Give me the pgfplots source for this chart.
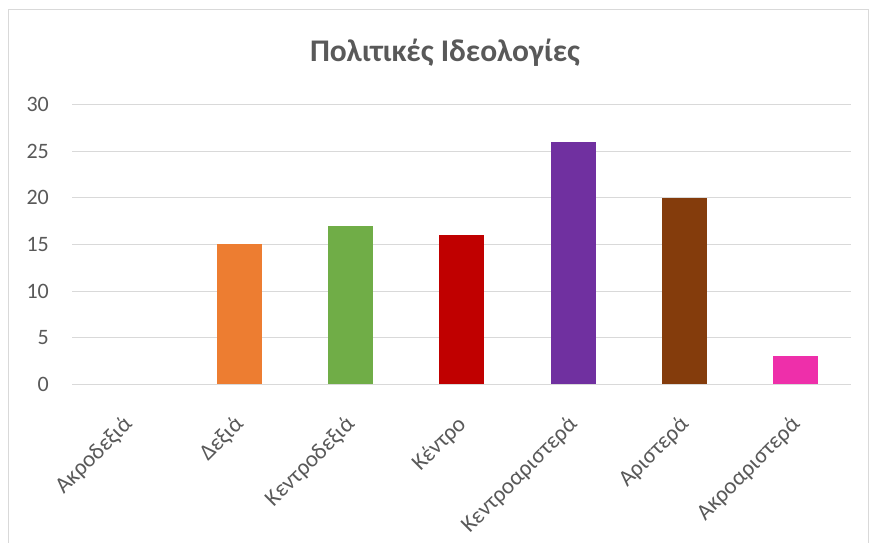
\documentclass[border=0pt]{standalone}
\usepackage{pgfplots}
\pgfplotsset{compat=1.18}
\usepackage{fontspec}
\setmainfont{Carlito}
\definecolor{txt}{RGB}{89,89,89}
\definecolor{grd}{RGB}{217,217,217}
\definecolor{c1}{RGB}{237,125,49}
\definecolor{c2}{RGB}{112,173,71}
\definecolor{c3}{RGB}{192,0,0}
\definecolor{c4}{RGB}{112,48,160}
\definecolor{c5}{RGB}{132,60,12}
\definecolor{c6}{RGB}{238,47,170}
\begin{document}
\begin{tikzpicture}[x=1pt,y=1pt]
\useasboundingbox (0,0) rectangle (870,543);
\draw[grd,line width=1pt] (8,-20) -- (8,533) -- (868,533) -- (868,-20);
\node[font=\fontsize{31.5}{34}\selectfont\bfseries,text=txt] at (445,490) {Πολιτικές Ιδεολογίες};
\begin{axis}[
  at={(65,170)}, anchor=south west,
  scale only axis, width=779pt, height=280pt,
  xmin=-0.5, xmax=6.5, ymin=0, ymax=30,
  ytick={0,5,...,30},
  xtick={0,...,6},
  xticklabels={Ακροδεξιά,Δεξιά,Κεντροδεξιά,Κέντρο,Κεντροαριστερά,Αριστερά,Ακροαριστερά},
  x tick label style={rotate=45, anchor=north east, font=\fontsize{23}{25}\selectfont, text=txt, yshift=-13pt, xshift=-22pt},
  y tick label style={font=\fontsize{22}{24}\selectfont, text=txt, xshift=-20pt},
  /pgf/number format/assume math mode=true,
  axis lines*=left,
  y axis line style={draw=none},
  x axis line style={grd, line width=1.5pt, -},
  major tick length=0pt,
  ymajorgrids, grid style={grd, line width=1pt},
  ybar, bar width=45pt, bar shift=0pt,
  every axis plot/.append style={draw=none},
  clip=false,
]
\addplot[fill=c1] coordinates {(1,15)};
\addplot[fill=c2] coordinates {(2,17)};
\addplot[fill=c3] coordinates {(3,16)};
\addplot[fill=c4] coordinates {(4,26)};
\addplot[fill=c5] coordinates {(5,20)};
\addplot[fill=c6] coordinates {(6,3)};
\end{axis}
\end{tikzpicture}
\end{document}
